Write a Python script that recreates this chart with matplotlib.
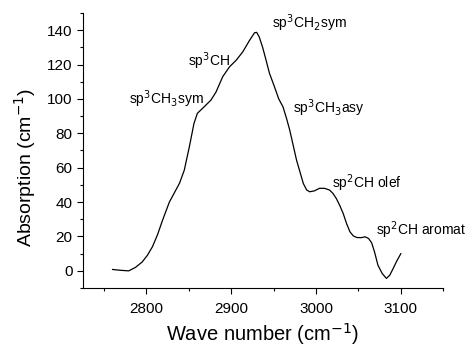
import matplotlib
matplotlib.use("Agg")
import matplotlib.pyplot as plt
from matplotlib.ticker import MultipleLocator

plt.rcParams['font.family'] = ['Liberation Sans', 'DejaVu Sans']

# ---------------- spectrum ----------------
wave = [2760, 2770, 2779, 2787, 2795, 2801, 2807, 2813, 2819, 2827, 2833, 2839, 2844.6,
        2850.5, 2856, 2860, 2868, 2876, 2882, 2890, 2898, 2906, 2913.6, 2921.5,
        2927.5, 2930, 2933, 2937, 2941, 2945, 2951, 2956, 2961, 2965, 2969, 2977,
        2985, 2989, 2992.5, 2998, 3004, 3010, 3016, 3020, 3024, 3028, 3032, 3036,
        3040, 3044, 3048, 3053, 3058, 3062, 3065.6, 3069, 3073, 3078, 3083, 3087,
        3091, 3095, 3100]
absorb = [0.8, 0.3, 0.0, 2.0, 5.2, 9.0, 14, 21, 29.5, 40, 45.5, 51, 58.6,
          72, 85.7, 91.6, 95.4, 99.3, 104, 113, 118.7, 122.6, 127.4, 134,
          138.5, 138.7, 136, 130, 122.6, 115, 107, 100, 95.4, 89, 81.8, 64.4,
          50.8, 47, 46, 46.5, 48, 48, 47, 45, 42, 38, 33.4, 27.5,
          22.7, 20.3, 19.4, 19.3, 19.8, 18.8, 16.3, 11, 3.3, -1.5, -4.4, -2.5,
          1.4, 5.5, 10]

# ---------------- band labels ----------------
band_text = [r'sp$^3$CH$_3$sym', r'sp$^3$CH', r'sp$^3$CH$_2$sym',
             r'sp$^3$CH$_3$asy', r'sp$^2$CH olef', r'sp$^2$CH aromat']
band_x = [2823, 2874, 2992, 3015, 3060, 3124]
band_y = [100, 122, 144, 94.6, 51, 23.7]

fig = plt.figure(figsize=(4.71, 3.5), dpi=100)
ax = fig.add_axes([0.176, 0.177, 0.765, 0.786])

ax.plot(wave, absorb, color='black', lw=0.9)

for t, x, y in zip(band_text, band_x, band_y):
    ax.text(x, y, t, fontsize=10, ha='center', va='center', clip_on=False)

ax.set_xlim(2725, 3150)
ax.set_ylim(-10, 150)
ax.set_xticks([2800, 2900, 3000, 3100])
ax.xaxis.set_minor_locator(MultipleLocator(50))
ax.set_yticks(range(0, 141, 20))
ax.yaxis.set_minor_locator(MultipleLocator(10))

ax.spines['top'].set_visible(False)
ax.spines['right'].set_visible(False)
ax.tick_params(which='major', direction='out', length=4, width=0.8, labelsize=11)
ax.tick_params(axis='x', which='major', pad=6)
ax.tick_params(which='minor', direction='out', length=2.5, width=0.8)

ax.set_xlabel(r'Wave number (cm$^{-1}$)', fontsize=14.5, labelpad=4)
ax.set_ylabel(r'Absorption (cm$^{-1}$)', fontsize=14)
ax.yaxis.set_label_coords(-0.125, 0.44)

fig.savefig('out.png', dpi=100)
